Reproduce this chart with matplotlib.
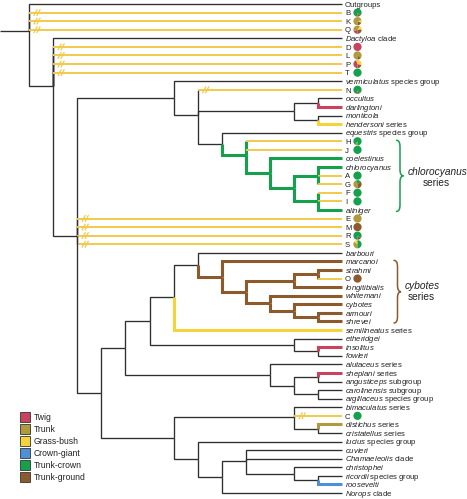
import matplotlib
matplotlib.use("Agg")
import matplotlib.pyplot as plt
from matplotlib.patches import Wedge, Rectangle, PathPatch
from matplotlib.path import Path

plt.rcParams['font.family'] = 'Liberation Sans'
plt.rcParams['mathtext.fontset'] = 'custom'
plt.rcParams['mathtext.it'] = 'Liberation Sans:italic'
plt.rcParams['mathtext.rm'] = 'Liberation Sans'

# ecomorph colours (legend)
TWIG = '#c9435f'
TRUNK = '#b09a3c'
GRASS = '#f4d43a'
CROWN = '#4f8fd6'
TCROWN = '#15a04b'
TGROUND = '#8c5a2d'
BLACK = '#2e2e2e'
YELLOW = '#f2c94c'

ecomorphs = ['Twig', 'Trunk', 'Grass-bush', 'Crown-giant', 'Trunk-crown', 'Trunk-ground']
eco_colors = [TWIG, TRUNK, GRASS, CROWN, TCROWN, TGROUND]

# tree: (node level, children, clade colour); leaves are names
tree = (0, ['Outgroups', 'B', 'K', 'Q',
    (1, ['Dactyloa', 'D', 'L', 'P', 'T',
        (2, [
            (6, ['vermiculatus',
                (7, ['N',
                    (11, [(12, ['occultus', 'darlingtoni']), (12, ['monticola', 'hendersoni'])]),
                    (8, ['equestris',
                        (9, ['H', 'J',
                            (10, ['coelestinus',
                                (11, [(12, ['chlorocyanus', 'A', 'G']),
                                      (12, ['F', 'I', 'aliniger'])])])], TCROWN)])])]),
            'E', 'M', 'R', 'S',
            (3, [
                (4, [
                    (5, [
                        (6, [
                            (7, ['barbouri',
                                (8, ['marcanoi',
                                    (9, [
                                        (11, [(12, ['strahmi', 'O']), 'longitibialis']),
                                        (10, ['whitemani',
                                              (11, ['cybotes', (12, ['armouri', 'shrevei'])])])])], TGROUND)]),
                            'semilineatus']),
                        (11, ['etheridgei', (12, ['insolitus', 'fowleri'])])]),
                    (10, ['alutaceus', (11, [(12, ['sheplani', 'angusticeps']),
                                             (12, ['carolinensis', 'argillaceus'])])])]),
                (6, [
                    (11, ['bimaculatus', 'C', (12, ['distichus', 'cristatellus'])]),
                    (7, ['lucius',
                        (8, [
                            (9, ['cuvieri', 'Chamaeleolis',
                                 (11, ['christophei', (12, ['ricordii', 'roosevelti'])])]),
                            'Norops'])])])])])])])

leaf_colors = {'darlingtoni': TWIG, 'hendersoni': GRASS, 'semilineatus': GRASS,
               'insolitus': TWIG, 'sheplani': TWIG, 'distichus': TRUNK,
               'roosevelti': CROWN}

labels = {
    'Outgroups': 'Outgroups',
    'Dactyloa': r'$\mathit{Dactyloa}$ clade',
    'vermiculatus': r'$\mathit{vermiculatus}$ species group',
    'occultus': r'$\mathit{occultus}$',
    'darlingtoni': r'$\mathit{darlingtoni}$',
    'monticola': r'$\mathit{monticola}$',
    'hendersoni': r'$\mathit{hendersoni}$ series',
    'equestris': r'$\mathit{equestris}$ species group',
    'coelestinus': r'$\mathit{coelestinus}$',
    'chlorocyanus': r'$\mathit{chlorocyanus}$',
    'aliniger': r'$\mathit{aliniger}$',
    'barbouri': r'$\mathit{barbouri}$',
    'marcanoi': r'$\mathit{marcanoi}$',
    'strahmi': r'$\mathit{strahmi}$',
    'longitibialis': r'$\mathit{longitibialis}$',
    'whitemani': r'$\mathit{whitemani}$',
    'cybotes': r'$\mathit{cybotes}$',
    'armouri': r'$\mathit{armouri}$',
    'shrevei': r'$\mathit{shrevei}$',
    'semilineatus': r'$\mathit{semilineatus}$ series',
    'etheridgei': r'$\mathit{etheridgei}$',
    'insolitus': r'$\mathit{insolitus}$',
    'fowleri': r'$\mathit{fowleri}$',
    'alutaceus': r'$\mathit{alutaceus}$ series',
    'sheplani': r'$\mathit{sheplani}$ series',
    'angusticeps': r'$\mathit{angusticeps}$ subgroup',
    'carolinensis': r'$\mathit{carolinensis}$ subgroup',
    'argillaceus': r'$\mathit{argillaceus}$ species group',
    'bimaculatus': r'$\mathit{bimaculatus}$ series',
    'distichus': r'$\mathit{distichus}$ series',
    'cristatellus': r'$\mathit{cristatellus}$ series',
    'lucius': r'$\mathit{lucius}$ species group',
    'cuvieri': r'$\mathit{cuvieri}$',
    'Chamaeleolis': r'$\mathit{Chamaeleolis}$ clade',
    'christophei': r'$\mathit{christophei}$',
    'ricordii': r'$\mathit{ricordii}$ species group',
    'roosevelti': r'$\mathit{roosevelti}$',
    'Norops': r'$\mathit{Norops}$ clade',
}

letters = list('BKQDLPTNHJAGFIEMRSOC')
broken = list('BKQDLPTNEMRSC')

# ecomorph pie fractions per unnamed lineage (Twig, Trunk, Grass, Crown, TCrown, TGround)
pies = {
    'B': [0, 0, 0, 0, 0.88, 0.12],
    'K': [0, 0.72, 0.1, 0, 0, 0.18],
    'Q': [0.2, 0.4, 0.15, 0, 0, 0.25],
    'D': [1, 0, 0, 0, 0, 0],
    'L': [0, 0.85, 0, 0, 0, 0.15],
    'P': [0.45, 0, 0.35, 0, 0, 0.2],
    'T': [0, 0, 0, 0, 1, 0],
    'N': [0, 0, 0, 0, 0.9, 0.1],
    'H': [0, 0.1, 0, 0, 0.9, 0],
    'J': [0, 0, 0, 0, 1, 0],
    'A': [0, 0, 0, 0, 1, 0],
    'G': [0, 0.45, 0, 0, 0.2, 0.35],
    'F': [0, 0, 0, 0, 1, 0],
    'I': [0, 0, 0, 0, 1, 0],
    'E': [0, 1, 0, 0, 0, 0],
    'M': [0, 0, 0, 0, 0, 1],
    'R': [0, 0, 0, 0, 0.85, 0.15],
    'S': [0, 0.35, 0.15, 0, 0.5, 0],
    'O': [0, 0, 0, 0, 0, 1],
    'C': [0, 0, 0, 0, 1, 0],
}

X0, STEP, TIP = 29, 24.1, 342
Y0, DY = 4.0, 8.58

fig = plt.figure(figsize=(4.67, 4.99), dpi=100)
ax = fig.add_axes([0, 0, 1, 1])
ax.set_xlim(0, 467)
ax.set_ylim(499, 0)
ax.axis('off')

leaf_y = {}
node_y = {}


def layout(node):
    if isinstance(node, str):
        leaf_y[node] = Y0 + DY * len(leaf_y)
        return leaf_y[node]
    ys = [layout(c) for c in node[1]]
    node_y[id(node)] = sum(ys) / len(ys)
    return node_y[id(node)]


def lw_for(c):
    return 0.95 if c == BLACK else 2.2


def draw(node, px, py, inherited):
    if isinstance(node, str):
        y = leaf_y[node]
        if node in letters:
            ax.plot([px, px], [py, y], color=inherited, lw=lw_for(inherited),
                    solid_capstyle='butt')
            ax.plot([px, TIP], [y, y], color=YELLOW, lw=1.4, solid_capstyle='butt')
            if node in broken:
                for dx in (6.5, 9.5):
                    ax.plot([px + dx - 1.5, px + dx + 1.5], [y + 2.8, y - 2.8],
                            color=YELLOW, lw=0.9)
        else:
            c = leaf_colors.get(node, inherited)
            ax.plot([px, px, TIP], [py, y, y], color=c, lw=lw_for(c),
                    solid_joinstyle='miter', solid_capstyle='butt')
        return
    level, children = node[0], node[1]
    c = node[2] if len(node) > 2 else inherited
    x = X0 + STEP * level
    y = node_y[id(node)]
    ax.plot([px, px, x], [py, y, y], color=c, lw=lw_for(c),
            solid_joinstyle='miter', solid_capstyle='butt')
    for ch in children:
        draw(ch, x, y, c)


root_y = layout(tree)
ax.plot([0, X0], [root_y, root_y], color=BLACK, lw=0.95, solid_capstyle='butt')
for ch in tree[1]:
    draw(ch, X0, root_y, BLACK)

# tip labels and pies
for name, y in leaf_y.items():
    txt = name if name in letters else labels[name]
    ax.text(345, y + 2.7, txt, fontsize=5.6, va='baseline', ha='left', color='#222222')
    if name in pies:
        start = 90
        for frac, col in zip(pies[name], eco_colors):
            if frac <= 0:
                continue
            ax.add_patch(Wedge((357.5, y), 4.1, start, start + 360 * frac,
                               facecolor=col, edgecolor='none'))
            start += 360 * frac


def brace(x, y0, y1, w, color):
    mid = (y0 + y1) / 2
    r = w * 0.9
    xm = x + w / 2
    verts = [(x, y0), (xm, y0), (xm, y0 + r),
             (xm, mid - r), (xm, mid), (x + w, mid),
             (xm, mid), (xm, mid + r),
             (xm, y1 - r), (xm, y1), (x, y1)]
    codes = [Path.MOVETO, Path.CURVE3, Path.CURVE3,
             Path.LINETO, Path.CURVE3, Path.CURVE3,
             Path.CURVE3, Path.CURVE3,
             Path.LINETO, Path.CURVE3, Path.CURVE3]
    ax.add_patch(PathPatch(Path(verts, codes), facecolor='none', edgecolor=color,
                           lw=1.1, capstyle='round'))


brace(396.5, leaf_y['H'] - 1, leaf_y['aliniger'] + 1.5, 7, TCROWN)
brace(394, leaf_y['marcanoi'] - 1, leaf_y['shrevei'] + 1.5, 7, TGROUND)

ax.text(408, 172, 'chlorocyanus', fontsize=7.3, style='italic', va='center', ha='left',
        color='#222222')
ax.text(436, 183.5, 'series', fontsize=7.3, va='center', ha='center', color='#222222')
ax.text(422, 286, 'cybotes', fontsize=7.3, style='italic', va='center', ha='center',
        color='#222222')
ax.text(421, 297.5, 'series', fontsize=7.3, va='center', ha='center', color='#222222')

# legend
for i, (lab, col) in enumerate(zip(ecomorphs, eco_colors)):
    yc = 417 + 12 * i
    ax.add_patch(Rectangle((19.5, yc - 4.8), 10.5, 9.6, facecolor=col,
                           edgecolor='#333333', lw=0.6))
    ax.text(34, yc, lab, fontsize=6.2, va='center', ha='left', color='#222222')

fig.savefig('out.png', dpi=100)
